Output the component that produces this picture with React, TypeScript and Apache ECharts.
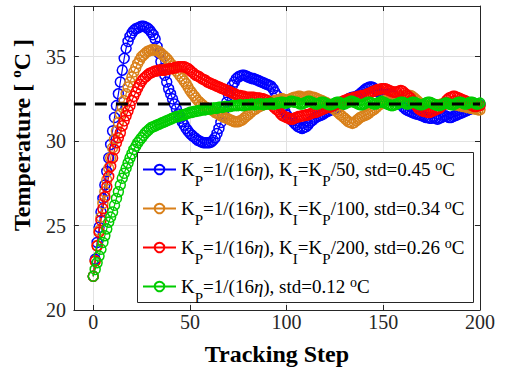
import React, { useEffect, useRef } from "react";
import * as echarts from "echarts";

const SERIF = "'Liberation Serif', 'Times New Roman', serif";

const X_TICKS = [0, 50, 100, 150, 200];
const Y_TICKS = [20, 25, 30, 35];
const REFERENCE = 32.2;

const NAMES = [
  "K_P=1/(16η), K_I=K_P/50, std=0.45 °C",
  "K_P=1/(16η), K_I=K_P/100, std=0.34 °C",
  "K_P=1/(16η), K_I=K_P/200, std=0.26 °C",
  "K_P=1/(16η), std=0.12 °C",
];
const RICH_LABELS = [
  "{n|K}{s|P}{n|=1/(16}{i|η}{n|), K}{s|I}{n|=K}{s|P}{n|/50, std=0.45 }{o|o}{n|C}",
  "{n|K}{s|P}{n|=1/(16}{i|η}{n|), K}{s|I}{n|=K}{s|P}{n|/100, std=0.34 }{o|o}{n|C}",
  "{n|K}{s|P}{n|=1/(16}{i|η}{n|), K}{s|I}{n|=K}{s|P}{n|/200, std=0.26 }{o|o}{n|C}",
  "{n|K}{s|P}{n|=1/(16}{i|η}{n|), std=0.12 }{o|o}{n|C}",
];
const COLORS = ["#0000ff", "#d9801a", "#ff0000", "#00cc00"];

const BLUE = [
  22.0, 23.0, 24.0, 24.9, 25.8, 26.6, 27.4, 28.2, 29.0, 29.8, 30.6,
  31.4, 32.1, 32.8, 33.5, 34.2, 34.9, 35.5, 35.9, 36.2, 36.4,
  36.55, 36.65, 36.7, 36.75, 36.8, 36.8, 36.75, 36.7, 36.6, 36.45,
  36.3, 36.05, 35.6, 35.2, 34.7, 34.3, 33.9, 33.5, 33.1, 32.8,
  32.5, 32.2, 31.9, 31.6, 31.35, 31.15, 30.95, 30.75, 30.6, 30.45,
  30.35, 30.25, 30.15, 30.05, 30.0, 29.95, 29.9, 29.9, 29.9, 29.9,
  29.95, 30.05, 30.2, 30.45, 30.75, 31.1, 31.5, 31.9, 32.3, 32.7,
  33.0, 33.3, 33.5, 33.7, 33.8, 33.85, 33.9, 33.9, 33.85, 33.8,
  33.75, 33.7, 33.7, 33.65, 33.6, 33.55, 33.5, 33.45, 33.4, 33.35,
  33.3, 33.25, 33.1, 32.9, 32.7, 32.4, 32.15, 31.95, 31.75, 31.55,
  31.4, 31.3, 31.2, 31.05, 30.95, 30.85, 30.8, 30.75, 30.8, 30.85,
  30.95, 31.1, 31.2, 31.3, 31.4, 31.45, 31.5, 31.55, 31.6, 31.7,
  31.75, 31.8, 31.85, 31.9, 31.95, 32.0, 32.05, 32.1, 32.2, 32.3,
  32.4, 32.5, 32.55, 32.6, 32.6, 32.65, 32.7, 32.8, 32.9, 33.0,
  33.1, 33.15, 33.2, 33.2, 33.15, 33.05, 32.95, 32.85, 32.75, 32.7,
  32.7, 32.75, 32.8, 32.8, 32.75, 32.65, 32.5, 32.35, 32.2, 32.05,
  31.95, 31.85, 31.8, 31.75, 31.7, 31.65, 31.6, 31.6, 31.55, 31.5,
  31.45, 31.4, 31.4, 31.35, 31.35, 31.4, 31.35, 31.3, 31.35, 31.4,
  31.45, 31.5, 31.45, 31.4, 31.4, 31.45, 31.5, 31.55, 31.6, 31.65,
  31.7, 31.75, 31.8, 31.85, 31.9, 31.95, 32.0, 32.05, 32.1, 32.15,
];

const ORANGE = [
  22.0, 22.9, 23.8, 24.7, 25.5, 26.3, 27.0, 27.7, 28.4, 29.0, 29.6,
  30.1, 30.6, 31.1, 31.6, 32.0, 32.4, 32.8, 33.2, 33.5, 33.8,
  34.1, 34.35, 34.6, 34.8, 35.0, 35.1, 35.2, 35.3, 35.35, 35.4,
  35.4, 35.4, 35.35, 35.3, 35.2, 35.1, 35.0, 34.9, 34.75, 34.6,
  34.45, 34.3, 34.15, 34.0, 33.85, 33.7, 33.55, 33.4, 33.2, 33.0,
  32.85, 32.7, 32.55, 32.4, 32.3, 32.2, 32.1, 32.0, 31.95, 31.9,
  31.85, 31.8, 31.7, 31.65, 31.6, 31.5, 31.45, 31.4, 31.35, 31.3,
  31.25, 31.2, 31.15, 31.15, 31.15, 31.2, 31.25, 31.35, 31.45, 31.55,
  31.65, 31.75, 31.85, 31.9, 32.0, 32.05, 32.1, 32.15, 32.2, 32.25,
  32.3, 32.3, 32.35, 32.4, 32.4, 32.45, 32.5, 32.5, 32.45, 32.4,
  32.45, 32.5, 32.55, 32.6, 32.6, 32.65, 32.65, 32.6, 32.6, 32.6,
  32.65, 32.65, 32.6, 32.6, 32.55, 32.5, 32.45, 32.4, 32.35, 32.3,
  32.25, 32.15, 32.05, 31.95, 31.85, 31.75, 31.65, 31.55, 31.45, 31.35,
  31.25, 31.15, 31.1, 31.05, 31.1, 31.2, 31.3, 31.4, 31.45, 31.5,
  31.55, 31.6, 31.7, 31.8, 31.85, 31.95, 32.05, 32.15, 32.25, 32.35,
  32.4, 32.45, 32.5, 32.5, 32.55, 32.55, 32.6, 32.6, 32.65, 32.65,
  32.7, 32.7, 32.7, 32.7, 32.65, 32.55, 32.45, 32.35, 32.25, 32.2,
  32.15, 32.1, 32.1, 32.05, 32.05, 32.1, 32.1, 32.15, 32.15, 32.2,
  32.2, 32.2, 32.25, 32.25, 32.2, 32.2, 32.15, 32.15, 32.1, 32.1,
  32.05, 32.05, 32.0, 32.0, 31.95, 31.95, 31.9, 31.9, 31.85, 31.85,
];

const RED = [
  22.0, 22.9, 23.8, 24.6, 25.3, 26.0, 26.7, 27.3, 27.9, 28.5, 29.0,
  29.5, 29.9, 30.2, 30.5, 30.9, 31.2, 31.5, 31.8, 32.1, 32.4,
  32.65, 32.9, 33.15, 33.35, 33.55, 33.7, 33.8, 33.9, 34.0, 34.05,
  34.1, 34.15, 34.15, 34.2, 34.2, 34.2, 34.2, 34.25, 34.25, 34.3,
  34.3, 34.35, 34.35, 34.4, 34.4, 34.4, 34.4, 34.35, 34.3, 34.2,
  34.1, 34.0, 33.9, 33.85, 33.8, 33.7, 33.65, 33.6, 33.5, 33.45,
  33.4, 33.35, 33.3, 33.25, 33.2, 33.15, 33.1, 33.05, 33.0, 32.95,
  32.9, 32.85, 32.8, 32.75, 32.7, 32.7, 32.65, 32.65, 32.6, 32.6,
  32.6, 32.6, 32.6, 32.55, 32.55, 32.55, 32.5, 32.5, 32.45, 32.4,
  32.3, 32.2, 32.05, 31.95, 31.85, 31.75, 31.6, 31.5, 31.45, 31.4,
  31.35, 31.3, 31.3, 31.35, 31.4, 31.45, 31.45, 31.5, 31.5, 31.55,
  31.55, 31.6, 31.65, 31.7, 31.7, 31.75, 31.8, 31.85, 31.9, 31.95,
  32.0, 32.0, 32.05, 32.1, 32.15, 32.2, 32.25, 32.3, 32.35, 32.4,
  32.45, 32.5, 32.5, 32.55, 32.6, 32.6, 32.65, 32.65, 32.7, 32.7,
  32.75, 32.8, 32.85, 32.9, 32.95, 33.0, 33.05, 33.05, 33.1, 33.1,
  33.1, 33.05, 33.0, 32.95, 32.9, 32.9, 32.9, 32.95, 33.0, 32.95,
  32.85, 32.75, 32.65, 32.55, 32.4, 32.25, 32.1, 31.95, 31.85, 31.8,
  31.75, 31.75, 31.7, 31.7, 31.75, 31.8, 31.85, 31.9, 31.95, 32.05,
  32.15, 32.3, 32.45, 32.55, 32.6, 32.65, 32.65, 32.6, 32.55, 32.5,
  32.45, 32.4, 32.35, 32.25, 32.15, 32.1, 32.05, 32.05, 32.1, 32.1,
];

const GREEN = [
  22.0, 22.4, 22.8, 23.2, 23.6, 24.0, 24.4, 24.8, 25.2, 25.5, 25.8,
  26.2, 26.6, 27.0, 27.4, 27.8, 28.1, 28.4, 28.7, 29.0, 29.25,
  29.5, 29.7, 29.9, 30.05, 30.2, 30.35, 30.5, 30.6, 30.7, 30.8,
  30.85, 30.9, 30.95, 31.0, 31.05, 31.1, 31.15, 31.2, 31.25, 31.3,
  31.35, 31.4, 31.45, 31.45, 31.5, 31.55, 31.55, 31.6, 31.65, 31.7,
  31.7, 31.75, 31.75, 31.8, 31.8, 31.85, 31.85, 31.85, 31.9, 31.9,
  31.9, 31.95, 31.95, 31.95, 32.0, 32.0, 32.0, 32.05, 32.05, 32.05,
  32.05, 32.1, 32.1, 32.1, 32.1, 32.15, 32.1, 32.1, 32.15, 32.15,
  32.15, 32.2, 32.15, 32.15, 32.2, 32.2, 32.2, 32.15, 32.2, 32.2,
  32.2, 32.25, 32.2, 32.2, 32.25, 32.25, 32.3, 32.3, 32.25, 32.25,
  32.3, 32.35, 32.35, 32.3, 32.3, 32.25, 32.2, 32.2, 32.25, 32.3,
  32.35, 32.35, 32.3, 32.25, 32.2, 32.2, 32.25, 32.3, 32.3, 32.25,
  32.2, 32.15, 32.15, 32.2, 32.25, 32.3, 32.3, 32.25, 32.2, 32.2,
  32.25, 32.3, 32.35, 32.35, 32.3, 32.25, 32.2, 32.15, 32.15, 32.2,
  32.25, 32.3, 32.3, 32.25, 32.2, 32.2, 32.25, 32.3, 32.35, 32.3,
  32.25, 32.2, 32.15, 32.1, 32.1, 32.15, 32.2, 32.25, 32.3, 32.3,
  32.25, 32.2, 32.2, 32.25, 32.3, 32.3, 32.25, 32.2, 32.15, 32.15,
  32.2, 32.25, 32.3, 32.3, 32.25, 32.2, 32.15, 32.1, 32.1, 32.15,
  32.2, 32.25, 32.25, 32.2, 32.15, 32.15, 32.2, 32.25, 32.3, 32.3,
  32.25, 32.2, 32.2, 32.25, 32.3, 32.3, 32.25, 32.2, 32.2, 32.25,
];

const SERIES_VALUES = [BLUE, ORANGE, RED, GREEN];
const STEPS = BLUE.map((_, i) => i);

export default function App() {
  const ref = useRef<HTMLDivElement>(null);

  useEffect(() => {
    document.body.style.margin = "0";
    if (!ref.current) return;
    const chart = echarts.init(ref.current, undefined, { renderer: "svg" });

    const axisColor = "#262626";
    const gridColor = "#e2e2e2";
    const richMap: Record<string, string> = {};
    NAMES.forEach((n, i) => (richMap[n] = RICH_LABELS[i]));

    const lineSeries = SERIES_VALUES.map((vals, i) => ({
      type: "line",
      name: NAMES[i],
      data: vals.map((v, k) => [STEPS[k], v]),
      symbol: "circle",
      symbolSize: 10,
      showSymbol: true,
      lineStyle: { color: COLORS[i], width: 1.2 },
      itemStyle: { color: "rgba(255,255,255,0)", borderColor: COLORS[i], borderWidth: 1.5 },
      emphasis: { disabled: true },
      silent: true,
      z: 2,
    }));

    chart.setOption({
      animation: false,
      grid: { left: 71, top: 6, width: 409, height: 304, containLabel: false },
      graphic: [
        {
          type: "rect",
          z: 4,
          silent: true,
          shape: { x: 137.5, y: 152.5, width: 336, height: 150 },
          style: { fill: "#fff", stroke: axisColor, lineWidth: 1 },
        },
      ],
      xAxis: [
        {
          type: "value",
          min: -10,
          max: 200,
          position: "bottom",
          name: "Tracking Step",
          nameLocation: "middle",
          nameGap: 32,
          nameTextStyle: { fontFamily: SERIF, fontWeight: "bold", fontSize: 24, color: "#000" },
          axisLine: { show: true, onZero: false, lineStyle: { color: axisColor } },
          axisTick: { show: true, inside: true, length: 5, customValues: X_TICKS, lineStyle: { color: axisColor } },
          axisLabel: { customValues: X_TICKS, fontFamily: SERIF, fontSize: 20, color: axisColor, margin: 2 },
          splitLine: { show: true, lineStyle: { color: gridColor } },
        },
        {
          type: "value",
          min: -10,
          max: 200,
          position: "top",
          axisLine: { show: true, onZero: false, lineStyle: { color: axisColor } },
          axisTick: { show: true, inside: true, length: 5, customValues: X_TICKS, lineStyle: { color: axisColor } },
          axisLabel: { show: false },
          splitLine: { show: false },
        },
      ],
      yAxis: [
        {
          type: "value",
          min: 20,
          max: 38,
          position: "left",
          name: "{b|Temperature [ }{o|o}{b|C ]}",
          nameLocation: "middle",
          nameGap: 29,
          nameTextStyle: {
            fontFamily: SERIF,
            fontWeight: "bold",
            fontSize: 24,
            color: "#000",
            padding: [0, 0, 0, 46],
            rich: {
              b: { fontFamily: SERIF, fontWeight: "bold", fontSize: 24, color: "#000", lineHeight: 26 },
              o: { fontFamily: SERIF, fontWeight: "bold", fontSize: 15, color: "#000", lineHeight: 2, padding: [0, 0, 12, 0] },
            },
          },
          axisLine: { show: true, onZero: false, lineStyle: { color: axisColor } },
          axisTick: { show: true, inside: true, length: 5, customValues: Y_TICKS, lineStyle: { color: axisColor } },
          axisLabel: { customValues: Y_TICKS, fontFamily: SERIF, fontSize: 20, color: axisColor, margin: 8 },
          splitLine: { show: true, lineStyle: { color: gridColor } },
        },
        {
          type: "value",
          min: 20,
          max: 38,
          position: "right",
          axisLine: { show: true, onZero: false, lineStyle: { color: axisColor } },
          axisTick: { show: true, inside: true, length: 5, customValues: Y_TICKS, lineStyle: { color: axisColor } },
          axisLabel: { show: false },
          splitLine: { show: false },
        },
      ],
      legend: {
        data: NAMES,
        orient: "vertical",
        left: 142,
        top: 151,
        padding: 0,
        itemGap: 2,
        itemWidth: 33,
        itemHeight: 12,
        z: 5,
        selectedMode: false,
        formatter: (name: string) => richMap[name] || name,
        textStyle: {
          fontFamily: SERIF,
          fontSize: 19,
          color: "#000",
          rich: {
            n: { fontFamily: SERIF, fontSize: 19, color: "#000", lineHeight: 20 },
            i: { fontFamily: SERIF, fontSize: 19, fontStyle: "italic", color: "#000", lineHeight: 20 },
            s: { fontFamily: SERIF, fontSize: 15, color: "#000", lineHeight: 2, padding: [22, 0, 0, 0] },
            o: { fontFamily: SERIF, fontSize: 14, color: "#000", lineHeight: 2, padding: [0, 0, 9, 0] },
          },
        },
      },
      series: [
        ...lineSeries,
        {
          type: "line",
          name: "reference",
          data: [
            [-10, REFERENCE],
            [200, REFERENCE],
          ],
          symbol: "none",
          lineStyle: { color: "#000", width: 3, type: [12, 9] },
          silent: true,
          z: 3,
        },
      ],
    });

    return () => chart.dispose();
  }, []);

  return <div ref={ref} style={{ width: 505, height: 371 }} />;
}
